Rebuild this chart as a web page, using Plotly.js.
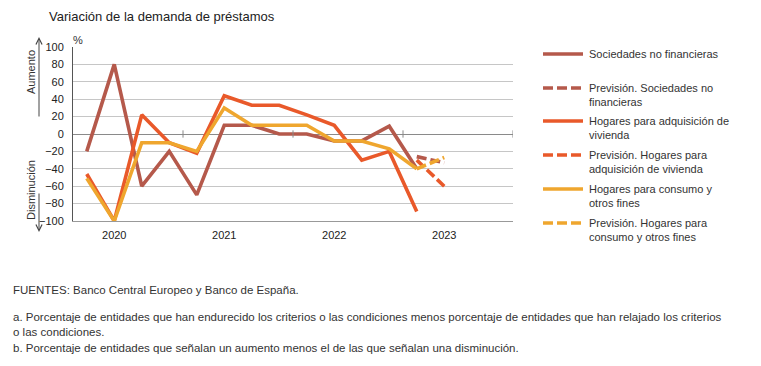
<!DOCTYPE html>
<html>
<head>
<meta charset="utf-8">
<script src="https://cdn.plot.ly/plotly-3.0.1.min.js"></script>
<style>html,body{margin:0;padding:0;background:#fff;}#chart{width:761px;height:366px;}</style>
</head>
<body>
<div id="chart"></div>
<script>
// ---- Data ----
const quarters = ["2019 T4","2020 T1","2020 T2","2020 T3","2020 T4","2021 T1","2021 T2","2021 T3","2021 T4","2022 T1","2022 T2","2022 T3","2022 T4","2023 T1","2023 T2","2023 T3"];
const yearTickCats = ["2020 T1","2021 T1","2022 T1","2023 T1"];
const yearTickLabels = ["2020","2021","2022","2023"];
const sociedades = [-20, 80, -60, -20, -70, 10, 10, 0, 0, -8, -8, 9, -40, null, null, null];
const prevSociedades = [null, null, null, null, null, null, null, null, null, null, null, null, -26, -33, null, null];
const vivienda = [-46, -100, 22, -10, -22, 44, 33, 33, 22, 10, -30, -20, -89, null, null, null];
const prevVivienda = [null, null, null, null, null, null, null, null, null, null, null, null, -30, -60, null, null];
const consumo = [-51, -100, -10, -10, -20, 30, 10, 10, 10, -8, -8, -17, -40, null, null, null];
const prevConsumo = [null, null, null, null, null, null, null, null, null, null, null, null, -40, -27, null, null];
const yTicks = [-100, -80, -60, -40, -20, 0, 20, 40, 60, 80, 100];
const yearBoundaries = [3.5, 7.5, 11.5, 15.5];

const cBrown = "#B5594B", cOrange = "#E9592A", cYellow = "#EFA62E";

// plot area in pixels
const L = 73, R = 513, T = 47, B = 221;
const X = px => (px - L) / (R - L);
const Y = py => (B - py) / (B - T);

const lw = 3.6, dashPat = "10px,4px";
function tr(y, color, dash, name) {
  return {x: quarters, y: y, type: "scatter", mode: "lines", name: name,
    line: {color: color, width: lw, dash: dash}, connectgaps: false, showlegend: false, hoverinfo: "skip"};
}
const data = [
  tr(sociedades, cBrown, "solid", "Sociedades no financieras"),
  tr(vivienda, cOrange, "solid", "Hogares para adquisición de vivienda"),
  tr(consumo, cYellow, "solid", "Hogares para consumo y otros fines"),
  tr(prevSociedades, cBrown, dashPat, "Previsión. Sociedades no financieras"),
  tr(prevVivienda, cOrange, dashPat, "Previsión. Hogares para adquisición de vivienda"),
  tr(prevConsumo, cYellow, dashPat, "Previsión. Hogares para consumo y otros fines")
];

// legend (manual)
const legendItems = [
  {text: "Sociedades no financieras", color: cBrown, dash: "solid", y: 54},
  {text: "Previsión. Sociedades no<br>financieras", color: cBrown, dash: dashPat, y: 88},
  {text: "Hogares para adquisición de<br>vivienda", color: cOrange, dash: "solid", y: 121},
  {text: "Previsión. Hogares para<br>adquisición de vivienda", color: cOrange, dash: dashPat, y: 155},
  {text: "Hogares para consumo y<br>otros fines", color: cYellow, dash: "solid", y: 189},
  {text: "Previsión. Hogares para<br>consumo y otros fines", color: cYellow, dash: dashPat, y: 223}
];

const shapes = [];
const annotations = [];
yearBoundaries.forEach(b => shapes.push({type: "line", xref: "x", yref: "y", x0: b, x1: b, y0: -4.2, y1: 4.2, line: {color: "#888", width: 1}}));
legendItems.forEach(it => {
  shapes.push({type: "line", xref: "paper", yref: "paper", x0: X(543), x1: X(583), y0: Y(it.y), y1: Y(it.y), line: {color: it.color, width: 3.6, dash: it.dash}});
  annotations.push({xref: "paper", yref: "paper", x: X(587), y: Y(it.y - 8), xanchor: "left", yanchor: "top", align: "left", showarrow: false, text: it.text, font: {size: 11, color: "#333"}});
});

// axis side labels
annotations.push({xref: "paper", yref: "paper", x: X(71), y: Y(40), xanchor: "left", yanchor: "middle", showarrow: false, text: "%", font: {size: 11, color: "#333"}});
annotations.push({xref: "paper", yref: "paper", x: X(31), y: Y(72), xanchor: "center", yanchor: "middle", showarrow: false, textangle: -90, text: "Aumento", font: {size: 11, color: "#333"}});
annotations.push({xref: "paper", yref: "paper", x: X(31), y: Y(190), xanchor: "center", yanchor: "middle", showarrow: false, textangle: -90, text: "Disminución", font: {size: 11, color: "#333"}});
annotations.push({xref: "paper", yref: "paper", x: X(39), y: Y(37), text: "", showarrow: true, arrowhead: 5, arrowsize: 1.2, arrowwidth: 1, arrowcolor: "#444", ax: 0, ay: 81});
annotations.push({xref: "paper", yref: "paper", x: X(39), y: Y(232), text: "", showarrow: true, arrowhead: 5, arrowsize: 1.2, arrowwidth: 1, arrowcolor: "#444", ax: 0, ay: -40});

// footnotes
const foot = [
  {t: "FUENTES: Banco Central Europeo y Banco de España.", y: 290},
  {t: "a. Porcentaje de entidades que han endurecido los criterios o las condiciones menos porcentaje de entidades que han relajado los criterios", y: 317},
  {t: "o las condiciones.", y: 332},
  {t: "b. Porcentaje de entidades que señalan un aumento menos el de las que señalan una disminución.", y: 348}
];
foot.forEach(f => annotations.push({xref: "paper", yref: "paper", x: X(11), y: Y(f.y), xanchor: "left", yanchor: "middle", showarrow: false, text: f.t, font: {size: 11.5, color: "#333"}}));

const layout = {
  width: 761, height: 366,
  margin: {l: L, r: 761 - R, t: T, b: 366 - B},
  paper_bgcolor: "#fff", plot_bgcolor: "#fff",
  font: {family: "Liberation Sans, Arial, sans-serif", size: 11, color: "#222"},
  title: {text: "Variación de la demanda de préstamos", x: 49 / 761, xanchor: "left", xref: "container", y: 1 - 16 / 366, yanchor: "middle", yref: "container", font: {size: 13, color: "#222"}},
  showlegend: false,
  hovermode: false,
  xaxis: {type: "category", categoryorder: "array", categoryarray: quarters, range: [-0.5, 15.5],
    tickvals: yearTickCats, ticktext: yearTickLabels, ticks: "", showgrid: false, zeroline: false,
    showline: true, linecolor: "#999", linewidth: 1, ticklabelstandoff: 4, tickfont: {size: 11, color: "#222"}, fixedrange: true},
  yaxis: {range: [-100, 100], tickvals: yTicks, ticks: "", showgrid: true, gridcolor: "#c6c6c6", gridwidth: 1,
    zeroline: true, zerolinecolor: "#8a8a8a", zerolinewidth: 1, showline: true, linecolor: "#555", linewidth: 1,
    ticklabelstandoff: 6, tickfont: {size: 11, color: "#222"}, fixedrange: true},
  shapes: shapes,
  annotations: annotations
};

Plotly.newPlot("chart", data, layout, {displayModeBar: false, staticPlot: true});
</script>
</body>
</html>
